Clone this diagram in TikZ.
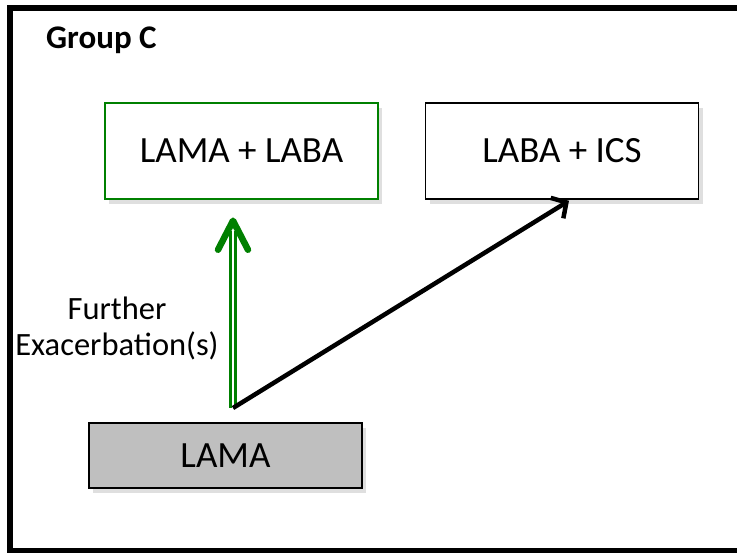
\documentclass[tikz,border=0pt]{standalone}
\usepackage{fontspec}
\setmainfont{Carlito}
\usetikzlibrary{shadows,calc,arrows.meta}
\definecolor{grn}{RGB}{0,128,0}
\definecolor{boxgray}{RGB}{191,191,191}
\begin{document}
\begin{tikzpicture}[x=1pt,y=-1pt,
  box/.style={draw, line width=1.5pt, minimum width=273pt, minimum height=96pt,
    font=\fontsize{37}{40}\selectfont, inner sep=0pt,
    drop shadow={shadow xshift=4pt,shadow yshift=-5pt,opacity=0.25}},
  gdouble/.style={grn, line width=2.8pt, double=white, double distance=2pt},
  ghead/.style={grn, line width=6.5pt, line cap=round, line join=round},
  barrow/.style={line width=4.5pt, -{Straight Barb[length=11pt,width=24pt]}}]
\fill[white] (0,0) rectangle (737,553);
\useasboundingbox (0,0) rectangle (737,553);
\draw[line width=6pt] (737,8) -- (10,8) -- (10,551) -- (737,551);
\node[font=\bfseries\fontsize{33}{36}\selectfont, anchor=base west, inner sep=0pt] (title) at (46,49) {Group C};
\node[box, draw=grn, fill=white] (ll) at (241.5,151) {LAMA + LABA};
\node[box, fill=white] (li) at (562,151) {LABA + ICS};
\node[box, fill=boxgray, minimum height=65pt] (lama) at (225.5,455.5) {LAMA};
\node[font=\fontsize{32.5}{36}\selectfont, align=center, inner sep=0pt] (lab) at (117,328) {Further\\Exacerbation(s)};
\coordinate (s) at (233,408);
\coordinate (gt) at ($(ll.south -| s)+(0,21)$);
\draw[gdouble] (s) -- ($(gt)+(0,10)$);
\draw[ghead] ($(gt)+(-15,29)$) -- (gt) -- ($(gt)+(15,29)$);
\draw[barrow] (s) -- ($(li.south)+(7,1)$);
\end{tikzpicture}
\end{document}
